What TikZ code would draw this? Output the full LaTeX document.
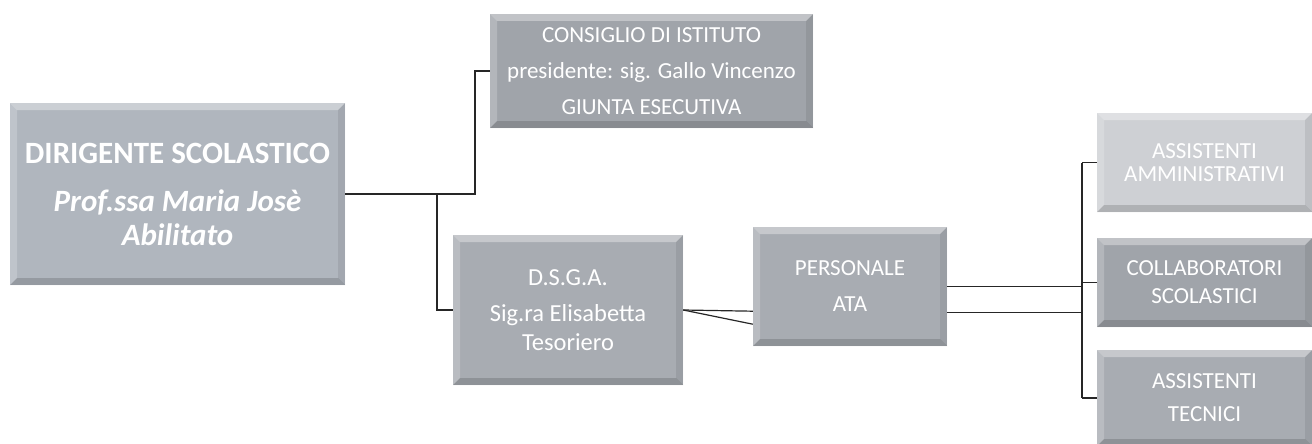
\documentclass[tikz,border=0pt]{standalone}
\usepackage{fontspec}
\setmainfont{Carlito}
\usetikzlibrary{positioning}
\definecolor{dirfill}{RGB}{176,182,190}
\definecolor{boxfill}{RGB}{160,164,170}
\definecolor{midfill}{RGB}{168,172,178}
\definecolor{palefill}{RGB}{206,208,212}
\tikzset{
  orgbox/.style={rectangle, fill=#1, text=white, align=center, inner sep=0,
    font=\fontsize{23}{36}\selectfont,
    path picture={
      \fill[white, opacity=.35] (path picture bounding box.north west) -- (path picture bounding box.north east)
        -- ([xshift=-7pt,yshift=-7pt]path picture bounding box.north east) -- ([xshift=7pt,yshift=-7pt]path picture bounding box.north west) -- cycle;
      \fill[white, opacity=.2] (path picture bounding box.north west) -- (path picture bounding box.south west)
        -- ([xshift=7pt,yshift=7pt]path picture bounding box.south west) -- ([xshift=7pt,yshift=-7pt]path picture bounding box.north west) -- cycle;
      \fill[black, opacity=.15] (path picture bounding box.south west) -- (path picture bounding box.south east)
        -- ([xshift=-7pt,yshift=7pt]path picture bounding box.south east) -- ([xshift=7pt,yshift=7pt]path picture bounding box.south west) -- cycle;
      \fill[black, opacity=.08] (path picture bounding box.north east) -- (path picture bounding box.south east)
        -- ([xshift=-7pt,yshift=7pt]path picture bounding box.south east) -- ([xshift=-7pt,yshift=-7pt]path picture bounding box.north east) -- cycle;
    }},
  link/.style={draw=black!85, line width=1.2pt}
}
\newcommand{\orgnode}[7][]{\node[orgbox=#6, minimum width=#4, minimum height=#5, #1] (#2) at (#3) {#7};}

\begin{document}
\begin{tikzpicture}[x=1pt, y=-1pt]
\useasboundingbox (0,0) rectangle (1312,444);

% boxes
\orgnode[font=\fontsize{31}{34}\selectfont\bfseries]{dir}{177.5,194}{335pt}{182pt}{dirfill}{DIRIGENTE SCOLASTICO\\[14pt]
  \itshape Prof.ssa Maria Josè\\ \itshape Abilitato}
\orgnode{cdi}{651.5,71}{323pt}{114pt}{boxfill}{CONSIGLIO DI ISTITUTO\\presidente: sig. Gallo Vincenzo\\GIUNTA ESECUTIVA}
\orgnode[font=\fontsize{24.5}{29}\selectfont]{dsga}{568,310}{230pt}{150pt}{midfill}{D.S.G.A.\\[7pt]Sig.ra Elisabetta\\Tesoriero}
\orgnode{ata}{850,286.5}{194pt}{119pt}{midfill}{PERSONALE\\ATA}
\orgnode[font=\fontsize{23}{23}\selectfont]{amm}{1204.5,162.5}{215pt}{99pt}{palefill}{ASSISTENTI\\AMMINISTRATIVI}
\orgnode[font=\fontsize{23}{28}\selectfont]{col}{1204.5,282.5}{215pt}{89pt}{boxfill}{COLLABORATORI\\SCOLASTICI}
\orgnode[font=\fontsize{23}{33}\selectfont]{tec}{1204.5,398}{215pt}{96pt}{midfill}{ASSISTENTI\\TECNICI}

% links from the head
\coordinate (j1) at (475,194);
\coordinate (j2) at (437,194);
\draw[link] (dir.east) -- (j1) |- (cdi.west);
\draw[link] (j2) |- (dsga.west);

% dsga to personale
\draw[link] (dsga.east) -- ([yshift=35pt]ata.south west);
\draw[link] (dsga.east) -- ([yshift=22pt]ata.south west);

% personale to the three groups
\coordinate (bus) at (1082,0);
\coordinate (ata2) at ([yshift=34pt]ata.south east);
\draw[link] (ata.east) -- (bus |- ata.east);
\draw[link] (ata2) -- (bus |- ata2);
\draw[link] (bus |- amm.west) -- (bus |- tec.west);
\draw[link] (bus |- amm.west) -- (amm.west);
\draw[link] (bus |- col.west) -- (col.west);
\draw[link] (bus |- tec.west) -- (tec.west);
\end{tikzpicture}
\end{document}
